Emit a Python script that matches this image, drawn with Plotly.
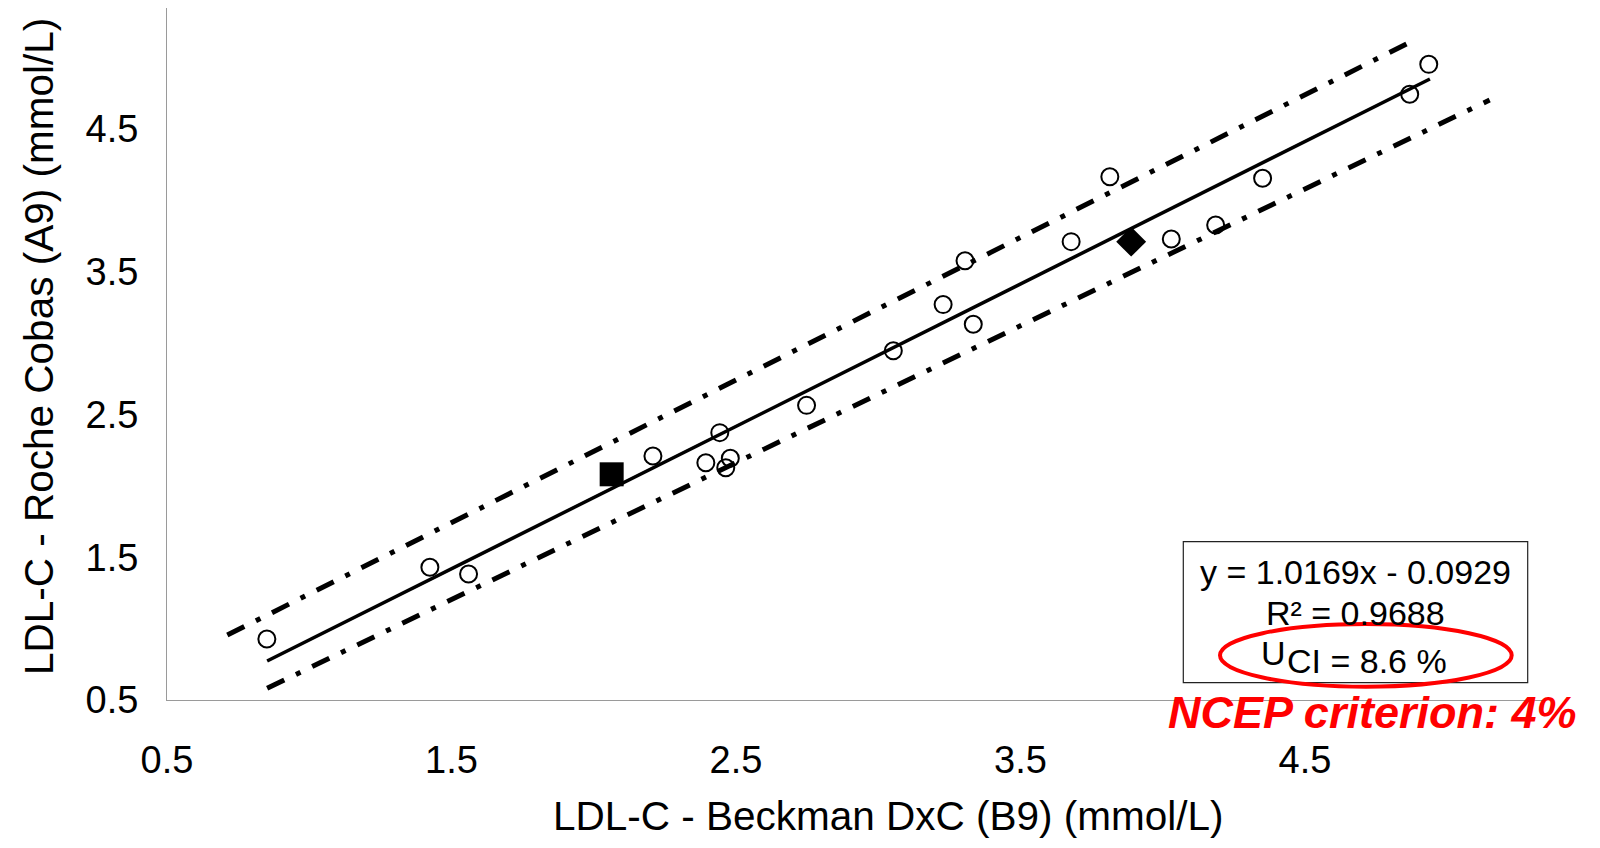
import plotly.graph_objects as go

# ---- data ----
circle_x = [0.851, 1.424, 1.560, 2.208, 2.394, 2.443, 2.464, 2.480, 2.748, 3.053,
            3.228, 3.305, 3.334, 3.678, 3.814, 4.030, 4.186, 4.351, 4.868, 4.935]
circle_y = [0.927, 1.430, 1.383, 2.209, 2.162, 2.373, 2.127, 2.193, 2.564, 2.947,
            3.270, 3.577, 3.132, 3.711, 4.166, 3.729, 3.827, 4.155, 4.743, 4.953]
square_x = [2.063]
square_y = [2.081]
diamond_x = [3.889]
diamond_y = [3.711]

fit_x = [0.852, 4.939]
fit_y = [0.773, 4.850]
upper_x = [0.712, 4.865]
upper_y = [0.955, 5.104]
lower_x = [0.852, 5.149]
lower_y = [0.582, 4.703]

tick_vals = [0.5, 1.5, 2.5, 3.5, 4.5]
tick_text = ["0.5", "1.5", "2.5", "3.5", "4.5"]

x_title = "LDL-C - Beckman DxC (B9) (mmol/L)"
y_title = "LDL-C - Roche Cobas (A9) (mmol/L)"
eq_text = "y = 1.0169x - 0.0929"
r2_text = "R² = 0.9688"
ncep_text = "NCEP criterion: 4%"

# ---- layout geometry (page has an 8px body margin) ----
OFF = 8
W, H = 1584, 832
L, T = 159, 0
PW, PH = 1376, 692
R = W - L - PW
B = H - T - PH


def px(xs):
    # screen x -> paper x
    return (xs - OFF - L) / PW


def py(ys):
    # screen y -> paper y
    return (OFF + T + PH - ys) / PH


FONT = "Liberation Sans, Arial, sans-serif"
dashdot = "19px,13px,5px,13px"

fig = go.Figure()
fig.add_trace(go.Scatter(x=circle_x, y=circle_y, mode="markers",
                         marker=dict(symbol="circle-open", size=17, color="black",
                                     line=dict(width=2, color="black")),
                         showlegend=False))
fig.add_trace(go.Scatter(x=fit_x, y=fit_y, mode="lines",
                         line=dict(color="black", width=3.5), showlegend=False))
fig.add_trace(go.Scatter(x=upper_x, y=upper_y, mode="lines",
                         line=dict(color="black", width=5, dash=dashdot), showlegend=False))
fig.add_trace(go.Scatter(x=lower_x, y=lower_y, mode="lines",
                         line=dict(color="black", width=5, dash=dashdot), showlegend=False))
fig.add_trace(go.Scatter(x=square_x, y=square_y, mode="markers",
                         marker=dict(symbol="square", size=24, color="black"),
                         showlegend=False))
fig.add_trace(go.Scatter(x=diamond_x, y=diamond_y, mode="markers",
                         marker=dict(symbol="diamond", size=23, color="black"),
                         showlegend=False))

axis_common = dict(tickvals=tick_vals, ticktext=tick_text, showgrid=False, zeroline=False,
                   showline=True, linecolor="#9a9a9a", linewidth=1, ticks="",
                   tickfont=dict(family=FONT, size=38, color="black"))
fig.update_xaxes(range=[0.5, 0.5 + PW / 284.5], mirror=True, ticklabelstandoff=26,
                 **axis_common)
fig.update_yaxes(range=[0.5, 0.5 + PH / 142.75], mirror=False, ticklabelstandoff=20,
                 **axis_common)

shapes = [
    dict(type="rect", xref="paper", yref="paper",
         x0=px(1183.3), x1=px(1527.7), y0=py(682.7), y1=py(541.7),
         line=dict(color="#222222", width=1.2), fillcolor="white", layer="above"),
    dict(type="circle", xref="paper", yref="paper",
         x0=px(1220), x1=px(1511.7), y0=py(686.7), y1=py(624),
         line=dict(color="#ff0000", width=4), layer="above"),
]

annotations = [
    dict(text=x_title, xref="paper", yref="paper", x=px(888.5), y=py(816),
         showarrow=False, xanchor="center", yanchor="middle",
         font=dict(family=FONT, size=40.5, color="black")),
    dict(text=y_title, xref="paper", yref="paper", x=px(39), y=py(347),
         showarrow=False, xanchor="center", yanchor="middle", textangle=-90,
         font=dict(family=FONT, size=40.5, color="black")),
    dict(text=eq_text, xref="paper", yref="paper", x=px(1355), y=py(571.7),
         showarrow=False, xanchor="center", yanchor="middle",
         font=dict(family=FONT, size=34, color="black")),
    dict(text=r2_text, xref="paper", yref="paper", x=px(1355), y=py(613),
         showarrow=False, xanchor="center", yanchor="middle",
         font=dict(family=FONT, size=34, color="black")),
    dict(text="U", xref="paper", yref="paper", x=px(1287), y=py(653),
         showarrow=False, xanchor="right", yanchor="middle", borderpad=0,
         font=dict(family=FONT, size=34, color="black")),
    dict(text="CI = 8.6 %", xref="paper", yref="paper", x=px(1286), y=py(661),
         showarrow=False, xanchor="left", yanchor="middle", borderpad=0,
         font=dict(family=FONT, size=34, color="black")),
    dict(text="<b><i>" + ncep_text + "</i></b>", xref="paper", yref="paper",
         x=px(1372), y=py(712), showarrow=False, xanchor="center", yanchor="middle",
         borderpad=0, font=dict(family=FONT, size=45, color="#ff0000")),
]

fig.update_layout(width=W, height=H, margin=dict(l=L, r=R, t=T, b=B, pad=0),
                  plot_bgcolor="white", paper_bgcolor="white",
                  shapes=shapes, annotations=annotations, showlegend=False)

fig.write_html("out.html")
